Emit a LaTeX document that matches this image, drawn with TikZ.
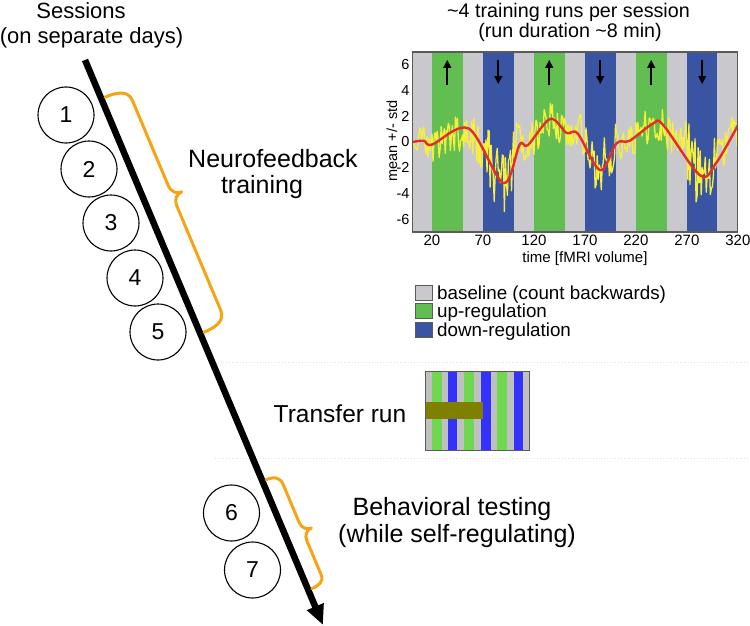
\documentclass[tikz,border=0pt]{standalone}
\usepackage{fontspec}
\setmainfont{Liberation Sans}
\usetikzlibrary{arrows.meta,calc}
\definecolor{bgray}{RGB}{200,200,205}
\definecolor{bgreen}{RGB}{98,190,80}
\definecolor{bblue}{RGB}{58,84,164}
\definecolor{sigyellow}{RGB}{246,240,60}
\definecolor{sigred}{RGB}{228,45,40}
\definecolor{braceorange}{RGB}{246,163,20}
\definecolor{tgreen}{RGB}{112,216,80}
\definecolor{tblue}{RGB}{50,50,250}
\definecolor{tgray}{RGB}{192,192,192}
\definecolor{tolive}{RGB}{128,128,0}
\definecolor{framegray}{RGB}{90,90,90}
\definecolor{sepgray}{RGB}{225,225,225}
\newcommand\setfs[1]{\fontsize{#1}{#1}\selectfont}
\tikzset{
  session/.style={circle, draw, line width=1.1pt, minimum size=56pt, inner sep=0pt, font=\setfs{23}},
  bigtext/.style={inner sep=0pt, font=\setfs{25}},
  bracestyle/.style={draw=braceorange, line width=3pt, line cap=round, line join=round},
  timeline/.style={line width=6.5pt, -{Triangle[length=20pt,width=17pt]}},
  sepline/.style={draw=sepgray, line width=0.8pt, dotted},
  ticklab/.style={inner sep=0pt, font=\setfs{14.5}},
  legtext/.style={inner sep=0pt, anchor=base west, font=\setfs{18.8}},
  legbox/.style={draw=framegray, line width=1pt},
  dirarrow/.style={line width=2.4pt, -{Triangle[length=8pt,width=7.5pt]}},
}
\begin{document}
\begin{tikzpicture}[x=1pt,y=-1pt]
\useasboundingbox (0,0) rectangle (750,626);

% separator lines
\coordinate (s1a) at (215,362); \coordinate (s1b) at (750,362);
\coordinate (s2a) at (215,458); \coordinate (s2b) at (750,458);
\draw[sepline] (s1a) -- (s1b);
\draw[sepline] (s2a) -- (s2b);

% headings
\node[inner sep=0pt, anchor=base, font=\setfs{22}] (sess) at (81,19) {Sessions};
\node[inner sep=0pt, anchor=base, font=\setfs{22}] (sess2) at (91.5,44) {(on separate days)};

% timeline
\coordinate (ttop) at (85,60);
\coordinate (ttip) at (323,625);
\draw[timeline] (ttop) -- (ttip);

% session circles
\node[session] (c1) at (66,115) {1};
\node[session] (c2) at (89,169) {2};
\node[session] (c3) at (111,223) {3};
\node[session] (c4) at (135,278) {4};
\node[session] (c5) at (158,332) {5};
\node[session] (c6) at (231.5,513) {6};
\node[session] (c7) at (252.5,570) {7};

% braces (local frame along the timeline)
\begin{scope}[shift={(85,60)}, x={(0.388pt,-0.922pt)}, y={(0.922pt,0.388pt)}]
  \draw[bracestyle] (42,4) .. controls (42,20) and (46,28) .. (56,28) -- (147,28)
     .. controls (155,28) and (159,32) .. (159,38)
     .. controls (159,32) and (163,28) .. (171,28) -- (283,28)
     .. controls (293,28) and (297,20) .. (297,4);
  \draw[bracestyle] (457,4) .. controls (457,13) and (460,18) .. (468,18) -- (509,18)
     .. controls (515,18) and (519,22) .. (519,27)
     .. controls (519,22) and (523,18) .. (529,18) -- (566,18)
     .. controls (573,18) and (575,12) .. (575,4);
\end{scope}

% labels
\node[bigtext, anchor=base west] (nf1) at (188,167) {Neurofeedback};
\node[bigtext, anchor=base] (nf2) at (262,193) {training};
\node[inner sep=0pt, anchor=base, font=\setfs{24.5}] (tr) at (340,422) {Transfer run};
\node[bigtext, anchor=base] (bt1) at (452,515) {Behavioral testing};
\node[bigtext, anchor=base] (bt2) at (457,542) {(while self-regulating)};

% transfer run box
\fill[tgray] (425,371) rectangle (529,450);
\foreach \a/\b in {432/442,464/474,497/507} \fill[tgreen] (\a,371) rectangle (\b,450);
\foreach \a/\b in {448/457,481/491,514/523} \fill[tblue] (\a,371) rectangle (\b,450);
\fill[tolive] (425,402) rectangle (483,419);
\draw[framegray, line width=1pt] (425,371) rectangle (529,450);

% plot title
\node[inner sep=0pt, anchor=base, font=\setfs{19.7}] (pt1) at (568.5,18) {\textasciitilde4 training runs per session};
\node[inner sep=0pt, anchor=base, font=\setfs{19.7}] (pt2) at (570,38) {(run duration \textasciitilde8 min)};

% the plot
\begin{scope}[shift={(411.6,142)}, x={(1.0196pt,0pt)}, y={(0pt,12.85pt)}]
  \fill[bgray] (1,-7) rectangle (320,7);
  \foreach \a in {20,120,220} \fill[bgreen] (\a,-7) rectangle ({\a+30},7);
  \foreach \a in {70,170,270} \fill[bblue] (\a,-7) rectangle ({\a+30},7);
  \foreach \a in {35,135,235} \draw[dirarrow] (\a,4.4) -- (\a,6.4);
  \foreach \a in {85,185,285} \draw[dirarrow] (\a,6.4) -- (\a,4.5);
  \begin{scope}
    \clip (1,-7) rectangle (320,7);
    \pgfmathsetseed{11}
    \draw[sigyellow, line width=1.3pt, line join=round] (1,0)
      \foreach \xa/\ya/\xb/\yb/\am [evaluate=\xa as \xs using int(\xa+1)] in
      {1/0/12/0.1/1.3, 12/0.1/20/-0.2/1.3, 20/-0.2/56/1.05/1.6, 56/1.05/72/-0.9/1.6,
       72/-0.9/90/-3.2/2.7, 90/-3.2/106/-0.2/2.4, 106/-0.2/114/-0.25/1.2,
       114/-0.25/136/1.8/1.4, 136/1.8/152/0.7/1.3, 152/0.7/163/0.65/1.2,
       163/0.65/185/-2.2/2.2, 185/-2.2/201/-0.1/2.1, 201/-0.1/214/0.1/1.3,
       214/0.1/237/1.45/1.4, 237/1.45/247/1.3/1.3, 247/1.3/268/-0.6/1.6,
       268/-0.6/283/-2.6/2.6, 283/-2.6/299/-1.6/2.4, 299/-1.6/320/1.3/1.8}
      { \foreach \v in {\xs,...,\xb} { -- (\v,{(\ya)+((\yb)-(\ya))*(\v-\xa)/(\xb-\xa)+\am*rand}) } };
    \draw[sigred, line width=2.4pt, line join=round] plot[smooth, tension=0.55] coordinates
      {(1,0) (12,0.1) (20,-0.2) (56,1.05) (90,-3.2) (106,-0.2) (114,-0.25) (136,1.8)
       (152,0.7) (163,0.65) (185,-2.2) (201,-0.1) (214,0.1) (237,1.45) (247,1.3)
       (283,-2.6) (299,-1.6) (320,1.3)};
  \end{scope}
  \draw[framegray, line width=1.2pt] (1,-7) rectangle (320,7);
  \foreach \v in {20,70,...,320} \node[ticklab, font=\setfs{15}, anchor=base] at (\v,-8.09) {\v};
  \foreach \t in {6,4,2,0,-2,-4,-6} \node[ticklab, anchor=east] at ([xshift=-3pt]1,\t) {\t};
\end{scope}
\node[inner sep=0pt, font=\setfs{14.5}, rotate=90] (ylab) at (392,141) {mean +/- std};
\node[inner sep=0pt, anchor=base, font=\setfs{15}] (xlab) at (585,262) {time [fMRI volume]};

% legend
\draw[legbox, fill=bgray] (415,285) rectangle (432,300);
\draw[legbox, fill=bgreen] (415,303.5) rectangle (432,318.5);
\draw[legbox, fill=bblue] (415,322) rectangle (432,337);
\node[legtext] (l1) at (437,299) {baseline (count backwards)};
\node[legtext] (l2) at (437,317.5) {up-regulation};
\node[legtext] (l3) at (437,336) {down-regulation};
\end{tikzpicture}
\end{document}
